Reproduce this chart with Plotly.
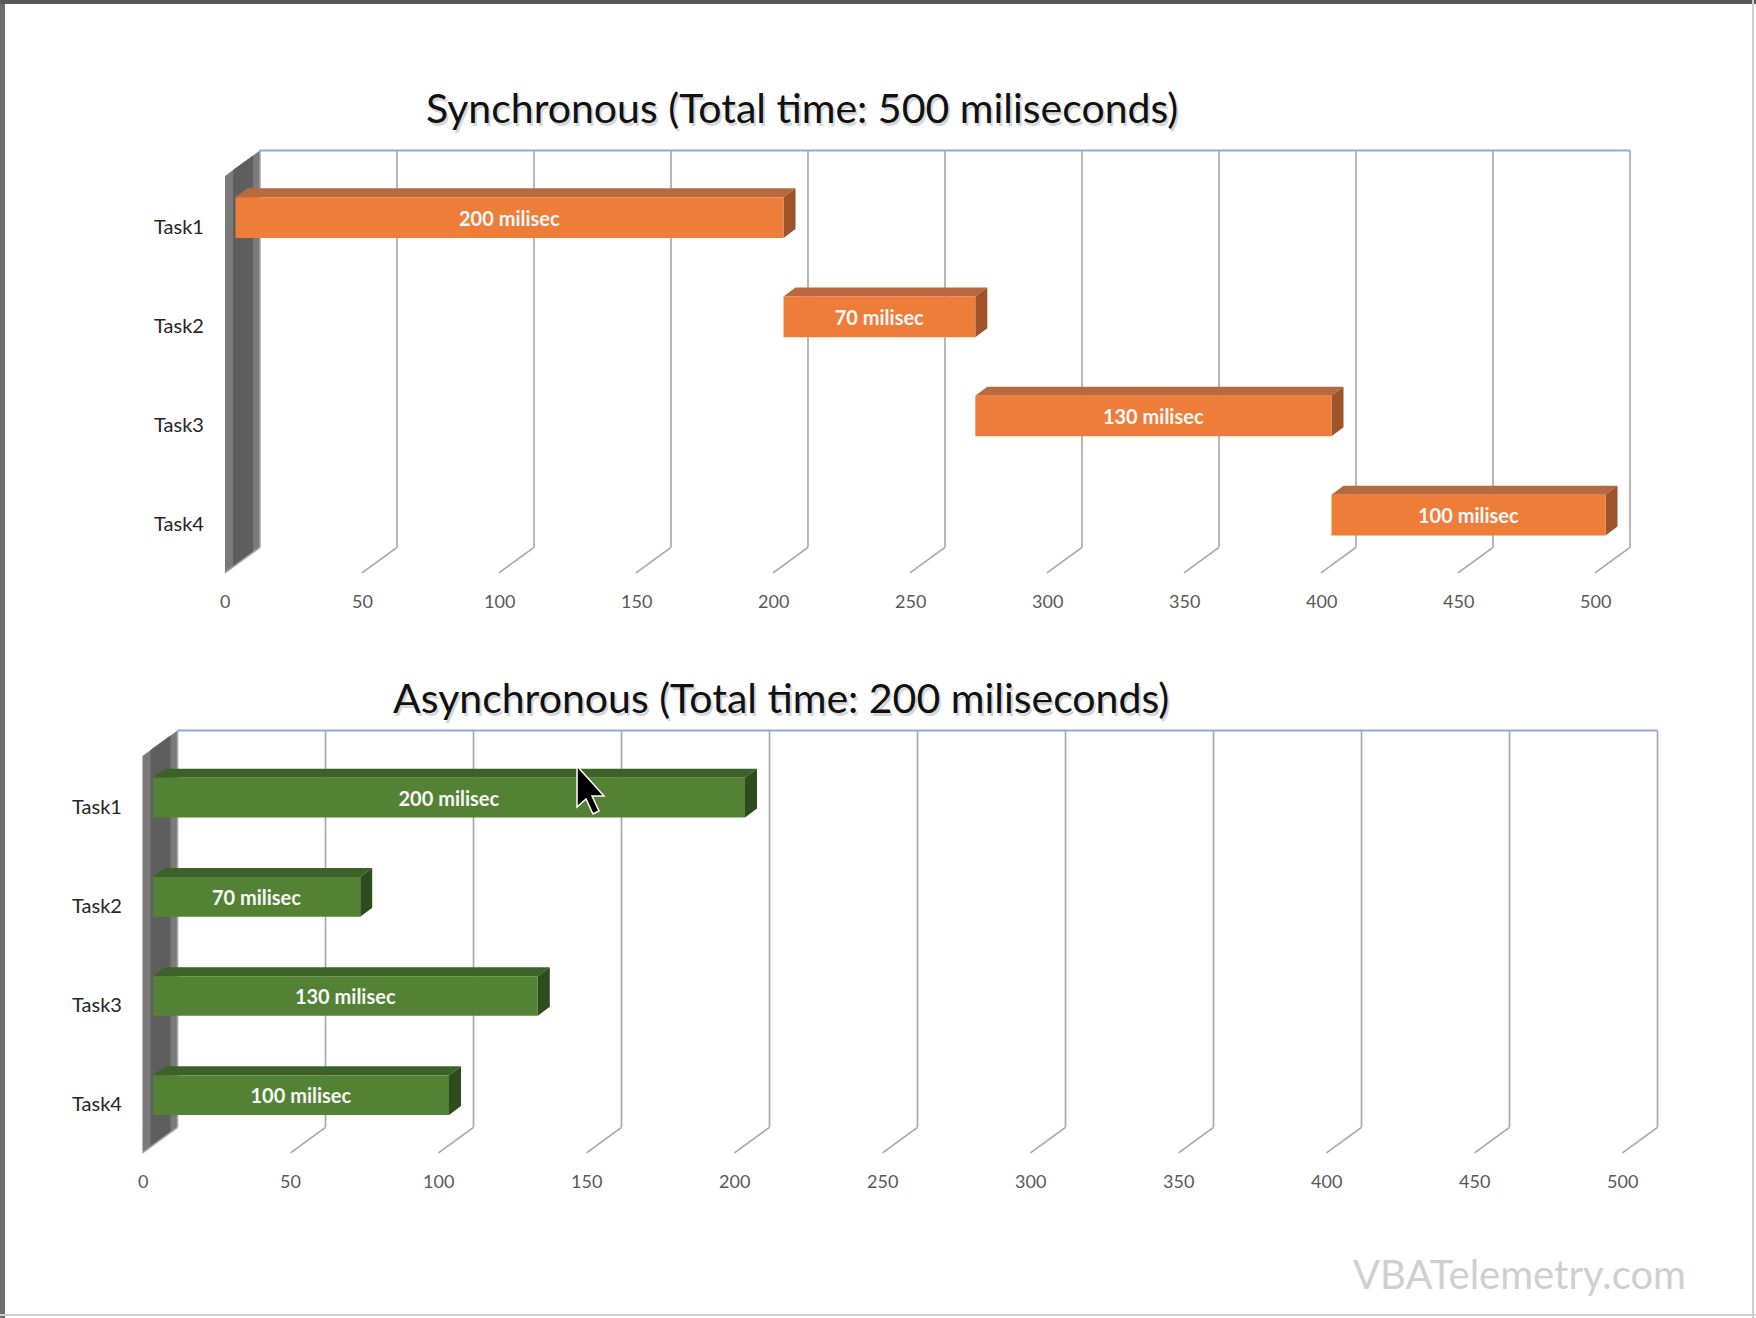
import plotly.graph_objects as go

# data
tasks = ["Task1", "Task2", "Task3", "Task4"]
durations = [200, 70, 130, 100]
sync_start = [0, 200, 270, 400]
async_start = [0, 0, 0, 0]
bar_labels = ["200 milisec", "70 milisec", "130 milisec", "100 milisec"]
x_ticks = [0, 50, 100, 150, 200, 250, 300, 350, 400, 450, 500]
titles = ["Synchronous (Total time: 500 miliseconds)",
          "Asynchronous (Total time: 200 miliseconds)"]

W, H = 1756, 1318
FONT = "Lato"

# pixel geometry of each 3D panel (front face plane of the bars)
panels = [
    dict(x0=235.5, k=2.74, ytop=168, pitch=99.2, bw=0.41,
         face="#EE7D3A", top="#B9693F", side="#9E532B", title_xy=(802, 107)),
    dict(x0=153, k=2.96, ytop=748, pitch=99.2, bw=0.40,
         face="#548235", top="#3D6228", side="#2F4C1F", title_xy=(781, 697)),
]
BACK = (24.5, 17.5)    # back wall offset from bar face (px right, px up)
FRONT = (-10.5, -8)    # floor front edge offset
DEPTH = (12, 9)        # bar depth
XR = [-6, 512]
YR = [3.65, -0.75]

fig = go.Figure()
shapes = []
annotations = []

for n, (starts, g, title) in enumerate(zip([sync_start, async_start], panels, titles), start=1):
    xa = "x" if n == 1 else f"x{n}"
    ya = "y" if n == 1 else f"y{n}"
    k, p = g["k"], g["pitch"]

    def dx(px, k=k):
        return px / k

    def dy(px, p=p):
        return -px / p

    # axes placed so that data map onto the screenshot geometry
    xdom = [(g["x0"] + XR[0] * k) / W, (g["x0"] + XR[1] * k) / W]
    ytop_px = g["ytop"] + (YR[1] + 0.5) * p
    ybot_px = g["ytop"] + (YR[0] + 0.5) * p
    ydom = [1 - ybot_px / H, 1 - ytop_px / H]
    axis_common = dict(visible=False, fixedrange=True, showgrid=False, zeroline=False)
    fig.update_layout(**{
        ("xaxis" if n == 1 else f"xaxis{n}"): dict(range=XR, domain=xdom, anchor=ya, **axis_common),
        ("yaxis" if n == 1 else f"yaxis{n}"): dict(range=YR, domain=ydom, anchor=xa, **axis_common),
    })

    idx = list(range(len(tasks)))
    top = -0.5
    bottom = len(tasks) - 0.5

    def line(x0, y0, x1, y1, color, width):
        return dict(type="line", xref=xa, yref=ya, x0=x0, y0=y0, x1=x1, y1=y1,
                    line=dict(color=color, width=width), layer="below")

    def poly(pts, color):
        path = "M " + " L ".join(f"{x:.4f},{y:.4f}" for x, y in pts) + " Z"
        return dict(type="path", xref=xa, yref=ya, path=path, fillcolor=color,
                    line=dict(width=0), layer="below")

    # left side wall
    shapes.append(poly([(dx(FRONT[0]), top + dy(FRONT[1])),
                        (dx(BACK[0]), top + dy(BACK[1])),
                        (dx(BACK[0]), bottom + dy(BACK[1])),
                        (dx(FRONT[0]), bottom + dy(FRONT[1]))], "#7A7A7A"))
    shapes.append(poly([(dx(FRONT[0] + 8), top + dy(FRONT[1] + 6)),
                        (dx(BACK[0] - 7), top + dy(BACK[1] - 5)),
                        (dx(BACK[0] - 7), bottom + dy(BACK[1] - 5)),
                        (dx(FRONT[0] + 8), bottom + dy(FRONT[1] + 6))], "#5E5E5E"))

    # back wall grid + floor diagonals
    for v in x_ticks:
        shapes.append(line(v + dx(BACK[0]), top + dy(BACK[1]),
                           v + dx(BACK[0]), bottom + dy(BACK[1]), "#A6A6A6", 1.6))
        shapes.append(line(v + dx(BACK[0]), bottom + dy(BACK[1]),
                           v + dx(FRONT[0]), bottom + dy(FRONT[1]), "#A6A6A6", 1.6))
        annotations.append(dict(xref=xa, yref=ya, x=v + dx(FRONT[0]), y=bottom + dy(FRONT[1]),
                                text=str(v), showarrow=False, yshift=-28,
                                xanchor="center", yanchor="middle",
                                font=dict(family=FONT, size=18, color="#595959")))
    shapes.append(line(x_ticks[0] + dx(BACK[0]), top + dy(BACK[1]),
                       x_ticks[-1] + dx(BACK[0]), top + dy(BACK[1]), "#8FAADC", 2))

    # bar top and side faces
    hw = g["bw"] / 2
    for i, b, d in zip(idx, starts, durations):
        yt = i - hw
        yb = i + hw
        e = b + d
        shapes.append(poly([(b, yt), (e, yt), (e + dx(DEPTH[0]), yt + dy(DEPTH[1])),
                            (b + dx(DEPTH[0]), yt + dy(DEPTH[1]))], g["top"]))
        shapes.append(poly([(e, yt), (e, yb), (e + dx(DEPTH[0]), yb + dy(DEPTH[1])),
                            (e + dx(DEPTH[0]), yt + dy(DEPTH[1]))], g["side"]))

    # task labels
    for i, t in zip(idx, tasks):
        annotations.append(dict(xref=xa, yref=ya, x=dx(FRONT[0]), y=i + dy(FRONT[1]),
                                text=t, showarrow=False, xanchor="right", yanchor="middle",
                                xshift=-19,
                                font=dict(family=FONT, size=20, color="#262626")))

    fig.add_trace(go.Bar(
        y=idx, x=durations, base=starts, orientation="h", width=g["bw"],
        marker=dict(color=g["face"], line=dict(width=0)),
        text=bar_labels, textposition="inside", insidetextanchor="middle",
        textangle=0, textfont=dict(family=FONT, size=20, color="#F7F7F7", weight="bold"),
        xaxis=xa, yaxis=ya, showlegend=False, hoverinfo="skip", cliponaxis=False,
    ))

    # title with soft shadow
    tx, ty = g["title_xy"]
    annotations.append(dict(xref="paper", yref="paper", x=tx / W, y=1 - ty / H, text=title,
                            showarrow=False, xshift=2, yshift=-3,
                            xanchor="center", yanchor="middle",
                            font=dict(family=FONT, size=41, color="rgba(0,0,0,0.18)")))
    annotations.append(dict(xref="paper", yref="paper", x=tx / W, y=1 - ty / H, text=title,
                            showarrow=False, xanchor="center", yanchor="middle",
                            font=dict(family=FONT, size=41, color="#111111")))

# watermark
annotations.append(dict(xref="paper", yref="paper", x=1519 / W, y=1 - 1274 / H,
                        text="VBATelemetry.com", showarrow=False,
                        xanchor="center", yanchor="middle",
                        font=dict(family=FONT, size=40, color="#CFCFCF")))

# screenshot frame
shapes += [
    dict(type="rect", xref="paper", yref="paper", x0=0, x1=5 / W, y0=0, y1=1,
         fillcolor="#6E6E6E", line=dict(width=0)),
    dict(type="rect", xref="paper", yref="paper", x0=0, x1=1, y0=1 - 4 / H, y1=1,
         fillcolor="#5A5A5A", line=dict(width=0)),
    dict(type="line", xref="paper", yref="paper", x0=1753 / W, x1=1753 / W, y0=0, y1=1,
         line=dict(color="#D0D0D0", width=2)),
    dict(type="line", xref="paper", yref="paper", x0=0, x1=1, y0=1 - 1315 / H, y1=1 - 1315 / H,
         line=dict(color="#D0D0D0", width=2)),
    # mouse pointer
    dict(type="path", xref="paper", yref="paper", xsizemode="pixel", ysizemode="pixel",
         xanchor=577 / W, yanchor=1 - 766 / H,
         path="M 0,0 L 0,-41 L 9,-33 L 16,-48 L 22,-45 L 15,-30 L 27,-30 Z",
         fillcolor="black", line=dict(color="white", width=1.5)),
]

fig.update_layout(
    width=W, height=H,
    margin=dict(l=0, r=0, t=0, b=0),
    paper_bgcolor="white", plot_bgcolor="rgba(0,0,0,0)",
    shapes=shapes, annotations=annotations,
    barmode="overlay", showlegend=False,
)

fig.write_html("out.html", config={"displayModeBar": False},
               post_script="document.body.style.margin='0';document.body.style.overflow='hidden';")
